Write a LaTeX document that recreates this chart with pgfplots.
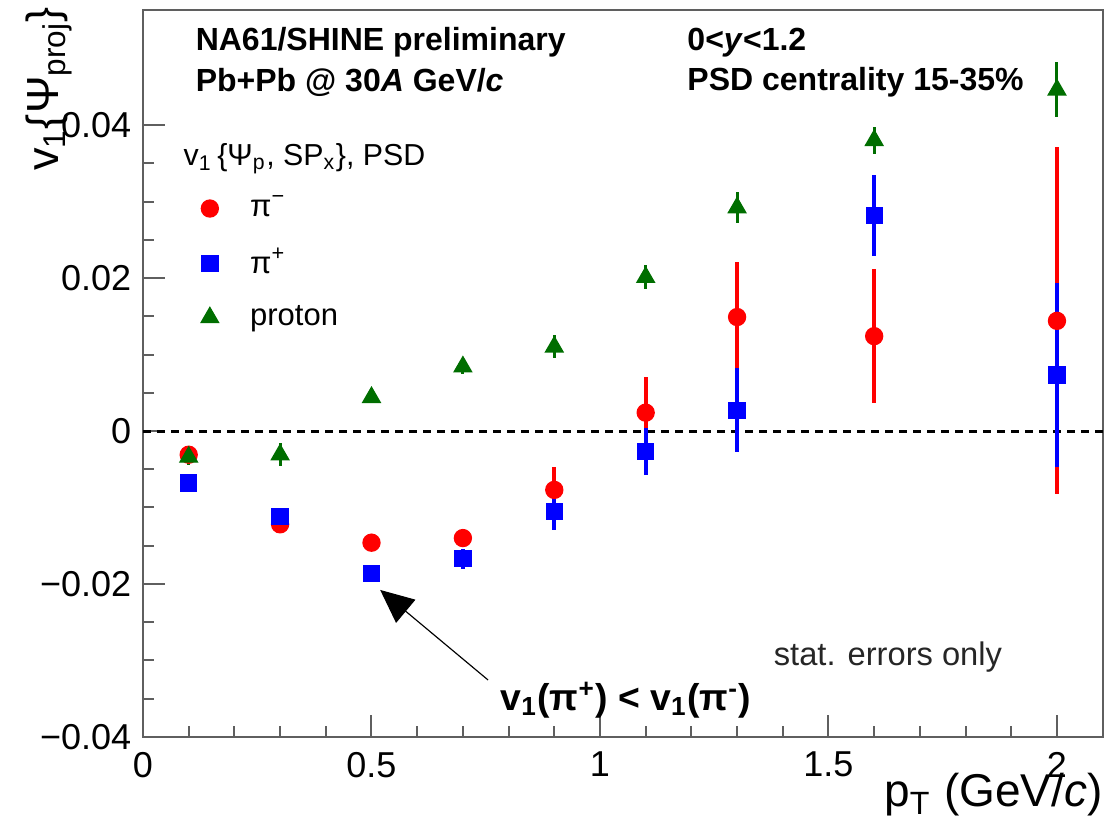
\documentclass[border=0pt]{standalone}
\usepackage{fontspec}
\setmainfont{Liberation Sans}
\usepackage{pgfplots}
\usepackage{pgfplotstable}
\pgfplotsset{compat=1.18}
\usetikzlibrary{arrows.meta}

\definecolor{rootred}{RGB}{255,0,0}
\definecolor{rootblue}{RGB}{0,0,255}
\definecolor{rootgreen}{RGB}{0,110,0}
\definecolor{framegray}{RGB}{95,95,95}

% v1 of pi-, pi+ and protons, stat. errors
\pgfplotstableread{
x y e
0.1 -0.0031 0.0008
0.3 -0.0122 0.0008
0.5 -0.0146 0.0010
0.7 -0.0140 0.0012
0.9 -0.0077 0.0030
1.1 0.0024 0.0047
1.3 0.0149 0.0072
1.6 0.0124 0.0088
2.0 0.0144 0.0227
}\pimtab
\pgfplotstableread{
x y e
0.1 -0.0068 0.0008
0.3 -0.0112 0.0008
0.5 -0.0186 0.0009
0.7 -0.0167 0.0013
0.9 -0.0105 0.0025
1.1 -0.0027 0.0031
1.3 0.0027 0.0055
1.6 0.0282 0.0053
2.0 0.0073 0.0120
}\piptab
\pgfplotstableread{
x y e
0.1 -0.0034 0.0010
0.3 -0.0031 0.0015
0.5 0.0044 0.0008
0.7 0.0084 0.0009
0.9 0.0110 0.0015
1.1 0.0201 0.0016
1.3 0.0292 0.0020
1.6 0.0380 0.0018
2.0 0.0446 0.0036
}\protab

\begin{document}
\begin{tikzpicture}
\begin{axis}[
  name=ax,
  scale only axis,
  width=287.9pt, height=218.0pt,
  xmin=0, xmax=2.1,
  ymin=-0.04, ymax=0.055,
  clip=false,
  axis line style={framegray, line width=0.7pt},
  tick style={framegray, line width=0.6pt},
  major tick length=6.6pt,
  minor tick length=3.4pt,
  tick pos=left,
  xtick={0,0.5,1,1.5,2},
  xticklabels={0,0.5,1,1.5,2},
  minor x tick num=4,
  ytick={-0.04,-0.02,0,0.02,0.04},
  yticklabels={−0.04,−0.02,0,0.02,0.04},
  minor y tick num=3,
  tick label style={font=\fontsize{10.8}{12}\selectfont},
  xticklabel style={yshift=-1pt},
  legend style={draw=none, fill=none, at={(axis cs:0.104,0.0326)}, anchor=north west,
    font=\fontsize{9.3}{11}\selectfont, row sep=4pt,
    /tikz/every odd column/.append style={column sep=7.5pt}},
  legend cell align=left,
  every node/.append style={inner sep=0pt},
]
\addplot[black, dashed, line width=0.9pt, dash pattern=on 2.4pt off 1.8pt, forget plot]
  coordinates {(0,0) (2.1,0)};

\addplot[only marks, mark=*, mark size=2.55pt, color=rootred,
  error bars/.cd, y dir=both, y explicit, error mark=none,
  error bar style={line width=1.2pt, rootred}]
  table[x=x, y=y, y error=e] {\pimtab};
\addlegendentry{π\textsuperscript{−}}
\addplot[only marks, mark=square*, mark size=2.4pt, color=rootblue,
  error bars/.cd, y dir=both, y explicit, error mark=none,
  error bar style={line width=1.2pt, rootblue}]
  table[x=x, y=y, y error=e] {\piptab};
\addlegendentry{π\textsuperscript{+}}
\addplot[only marks, mark=triangle*, mark size=3pt, color=rootgreen,
  error bars/.cd, y dir=both, y explicit, error mark=none,
  error bar style={line width=0.9pt, rootgreen}]
  table[x=x, y=y, y error=e] {\protab};
\addlegendentry{proton}

\node[anchor=west, inner sep=0pt, font=\fontsize{9.6}{11}\selectfont\bfseries] at (axis cs:0.114,0.0508) {NA61/SHINE preliminary};
\node[anchor=west, inner sep=0pt, font=\fontsize{9.6}{11}\selectfont\bfseries] at (axis cs:0.114,0.0456) {Pb+Pb @ 30\textit{A} GeV/\textit{c}};
\node[anchor=west, inner sep=0pt, font=\fontsize{9.6}{11}\selectfont\bfseries] at (axis cs:1.190,0.0508) {0<\textit{y}<1.2};
\node[anchor=west, inner sep=0pt, font=\fontsize{9.6}{11}\selectfont\bfseries] at (axis cs:1.190,0.0456) {PSD centrality 15-35\%};
\node[anchor=west, inner sep=0pt, font=\fontsize{9.1}{11}\selectfont] at (axis cs:0.0875,0.0356)
  {v\textsubscript{1}\,\{Ψ\textsubscript{p}, SP\textsubscript{x}\}, PSD};
\node[anchor=west, inner sep=0pt, font=\fontsize{9.8}{11}\selectfont, text=black!85] at (axis cs:1.379,-0.02954) {stat. errors only};
\node[anchor=west, inner sep=0pt, font=\fontsize{11.2}{13}\selectfont\bfseries] at (axis cs:0.781,-0.03516)
  {v\textsubscript{1}(π\textsuperscript{+}) < v\textsubscript{1}(π\textsuperscript{-})};
\draw[-{Triangle[length=10pt,width=9pt]}, line width=0.35pt]
  (axis cs:0.755,-0.03255) -- (axis cs:0.519,-0.02078);
\node[anchor=east, inner sep=0pt, font=\fontsize{13.8}{15}\selectfont] at (axis cs:2.101,-0.0476)
  {p\textsubscript{T} (GeV/\textit{c})};
\node[anchor=east, inner sep=0pt, rotate=90, font=\fontsize{13.5}{15}\selectfont] at (axis cs:-0.205,0.0555)
  {v\textsubscript{1}\{Ψ\textsubscript{proj}\}};
\end{axis}
\pgfresetboundingbox
\path[use as bounding box] ([xshift=-42.9pt,yshift=-29.1pt]ax.south west) rectangle ([xshift=2.8pt,yshift=3.1pt]ax.north east);
\end{tikzpicture}
\end{document}
